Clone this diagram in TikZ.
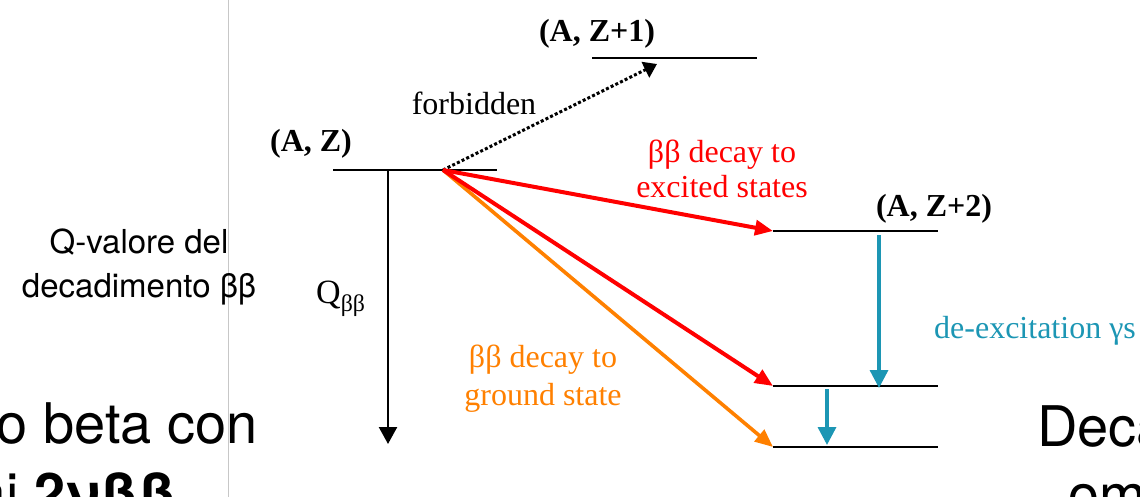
\documentclass[tikz,border=0pt]{standalone}
\usepackage{fontspec}
\setmainfont{Liberation Serif}
\newfontfamily\slidefont{TeX Gyre Heros}
\usetikzlibrary{arrows.meta}
\definecolor{bbred}{RGB}{255,0,0}
\definecolor{bborange}{RGB}{255,128,0}
\definecolor{gammateal}{RGB}{28,150,180}
\newcommand{\lblsize}{\fontsize{32}{34}\selectfont}
\newcommand{\slidesize}{\fontsize{33}{36}\selectfont\slidefont}
\newcommand{\bigsize}{\fontsize{56}{64}\selectfont\slidefont}

\begin{document}
\begin{tikzpicture}[x=1pt, y=-1pt,
  level/.style={line width=2pt},
  qval/.style={line width=2.4pt, -{Triangle[length=17pt,width=18pt]}},
  forbid/.style={line width=3pt, dash pattern=on 3pt off 2.2pt, -{Triangle[length=13pt,width=17pt]}},
  toexc/.style={bbred, line width=4pt, -{Triangle[length=18pt,width=15pt]}},
  togs/.style={bborange, line width=3.6pt, -{Triangle[length=18pt,width=15pt]}},
  gamma/.style={gammateal, line width=3.4pt, -{Triangle[length=18pt,width=18pt]}},
  lbl/.style={inner sep=0pt, anchor=base, font=\lblsize},
  slide/.style={inner sep=0pt, anchor=base, font=\slidesize}]
  \useasboundingbox (0,0) rectangle (1140,497);
  \clip (0,0) rectangle (1140,497);

  % energy levels
  \coordinate (az-l) at (333,170);
  \coordinate (az-r) at (497,170);
  \coordinate (az) at (443,170);
  \coordinate (az1-l) at (592,58);
  \coordinate (az1-r) at (757,58);
  \coordinate (az1) at (657,64);
  \coordinate (exc-l) at (773,231);
  \coordinate (exc-r) at (938,231);
  \coordinate (mid-l) at (773,386);
  \coordinate (mid-r) at (938,386);
  \coordinate (gs-l) at (773,447);
  \coordinate (gs-r) at (938,447);
  \coordinate (q0) at (388,170);
  \coordinate (q1) at (388,444);
  \coordinate (g1a) at (879,235);
  \coordinate (g1b) at (879,388);
  \coordinate (g2a) at (827,389);
  \coordinate (g2b) at (827,445);

  \draw[level] (az-l) -- (az-r);
  \draw[level] (az1-l) -- (az1-r);
  \draw[level] (exc-l) -- (exc-r);
  \draw[level] (mid-l) -- (mid-r);
  \draw[level] (gs-l) -- (gs-r);

  \draw[qval] (q0) -- (q1);
  \draw[forbid] (az) -- (az1);
  \draw[togs] (az) -- (gs-l);
  \draw[toexc] (az) -- (mid-l);
  \draw[toexc] (az) -- (exc-l);
  \draw[gamma] (g1a) -- (g1b);
  \draw[gamma] (g2a) -- (g2b);

  \node[lbl, font=\lblsize\bfseries] (az-lbl) at (311,152) {(A, Z)};
  \node[lbl, font=\lblsize\bfseries] (az1-lbl) at (597,42) {(A, Z+1)};
  \node[lbl, font=\lblsize\bfseries] (az2-lbl) at (934,217) {(A, Z+2)};
  \node[lbl] (forbid-lbl) at (474,115) {forbidden};
  \node[lbl, bbred] (exc-lbl1) at (722,163) {ββ decay to};
  \node[lbl, bbred] (exc-lbl2) at (722,197) {excited states};
  \node[lbl, bborange] (gs-lbl1) at (543,367) {ββ decay to};
  \node[lbl, bborange] (gs-lbl2) at (543,405) {ground state};
  \node[lbl, gammateal] (gamma-lbl) at (1035,338) {de-excitation γs};
  \node[lbl, anchor=base west] (q-lbl) at (316,303) {\fontsize{34}{36}\selectfont Q\textsubscript{ββ}};

  % slide text around the figure
  \draw[black!22, line width=1pt] (228.5,0) -- (228.5,497);
  \node[slide] (qv1) at (139,253) {Q-valore del};
  \node[slide] (qv2) at (139,297) {decadimento ββ};
  \node[slide, font=\bigsize, anchor=base east] (left1) at (258,443) {o beta con};
  \node[slide, font=\bigsize, anchor=base east] (left2) at (177,513) {ai \textbf{2νββ}};
  \node[slide, font=\bigsize, anchor=base west] (right1) at (1037,446) {Deca};
  \node[slide, font=\bigsize, anchor=base west] (right2) at (1068,514) {om};
\end{tikzpicture}
\end{document}
